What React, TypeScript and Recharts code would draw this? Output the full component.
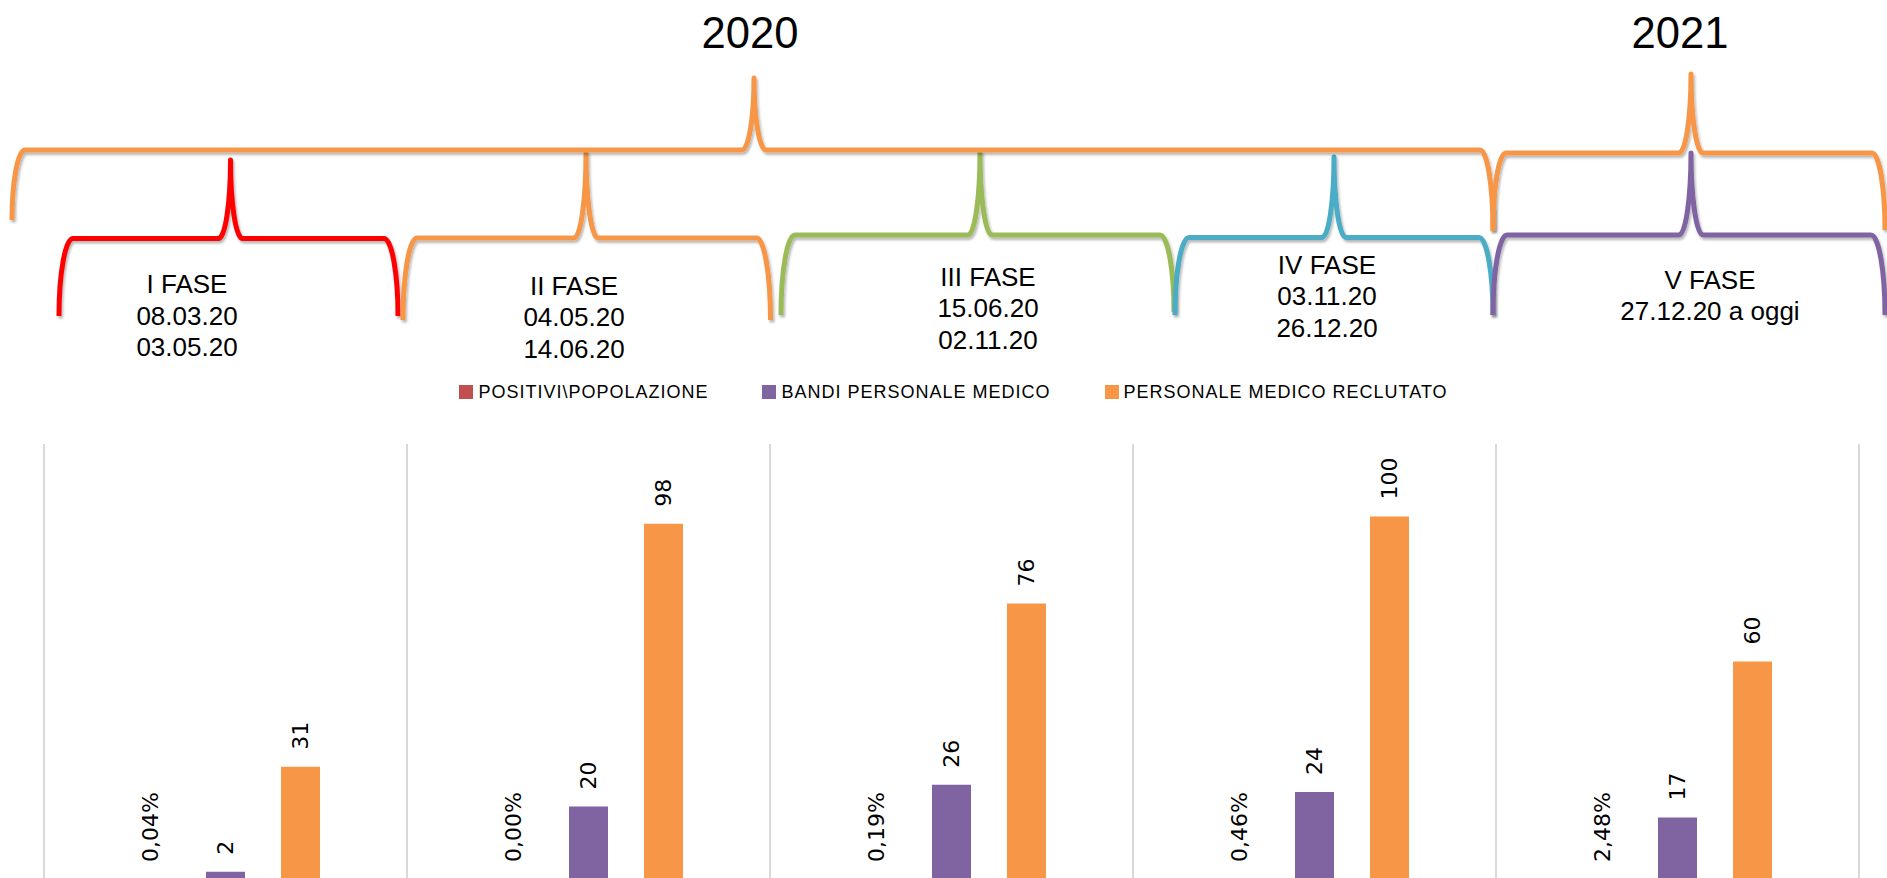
import React from 'react';
import { BarChart, Bar, XAxis, YAxis, CartesianGrid, Legend, LabelList } from 'recharts';

// ---- data ----
const phases = ['I FASE', 'II FASE', 'III FASE', 'IV FASE', 'V FASE'];
const phaseStart = ['08.03.20', '04.05.20', '15.06.20', '03.11.20', '27.12.20 a oggi'];
const phaseEnd = ['03.05.20', '14.06.20', '02.11.20', '26.12.20', ''];
const years = ['2020', '2021'];
const seriesNames = ['POSITIVI\\POPOLAZIONE', 'BANDI PERSONALE MEDICO', 'PERSONALE MEDICO RECLUTATO'];
const positiviPopolazione = [0.0004, 0.0, 0.0019, 0.0046, 0.0248];
const bandiPersonaleMedico = [2, 20, 26, 24, 17];
const personaleMedicoReclutato = [31, 98, 76, 100, 60];

const data = phases.map((p, i) => ({
  phase: p,
  positivi: positiviPopolazione[i],
  bandi: bandiPersonaleMedico[i],
  reclutato: personaleMedicoReclutato[i],
}));

// ---- layout / style ----
const W = 1887;
const H = 878;
const CHART_H = 900;
const MARGIN = { top: 444, right: 28, bottom: 21, left: 44 };
const COLORS = ['#C0504D', '#8064A2', '#F79646'];
const TEXT_FONT = '"Liberation Sans", Arial, sans-serif';
const LABEL_FONT = '"DejaVu Sans", Verdana, sans-serif';

const yearBraces = [
  { x1: 12, x2: 1493, xp: 754, yH: 150, yL: 220, yR: 230, yP: 78, color: '#F79646', rE: 13 },
  { x1: 1493, x2: 1885, xp: 1691, yH: 153, yL: 231, yR: 230, yP: 74, color: '#F79646', rE: 13 },
];
const yearPos = [
  { x: 750, y: 48 },
  { x: 1680, y: 48 },
];
const phaseBraces = [
  { x1: 59, x2: 398, xp: 230.5, yH: 238.5, yL: 316, yR: 316, yP: 160, color: '#FF0000', rE: 14 },
  { x1: 403, x2: 770.5, xp: 586, yH: 238, yL: 320, yR: 320, yP: 153, color: '#F79646', rE: 14 },
  { x1: 781, x2: 1174, xp: 980, yH: 235, yL: 315, yR: 312, yP: 153, color: '#9BBB59', rE: 14 },
  { x1: 1175, x2: 1493, xp: 1334, yH: 237.5, yL: 315, yR: 315, yP: 157, color: '#4BACC6', rE: 14 },
  { x1: 1493, x2: 1885, xp: 1691, yH: 235, yL: 315, yR: 315, yP: 153, color: '#8064A2', rE: 14 },
];
const phaseTextPos = [
  { x: 187, y: 293 },
  { x: 574, y: 294.5 },
  { x: 988, y: 285.5 },
  { x: 1327, y: 273.5 },
  { x: 1710, y: 288.5 },
];
const LINE_H = 31.5;

type Brace = { x1: number; x2: number; xp: number; yH: number; yL: number; yR: number; yP: number; color: string; rE: number };

function bracePath(b: Brace) {
  const rP = 12;
  return [
    `M ${b.x1} ${b.yL}`,
    `A ${b.rE} ${b.yL - b.yH} 0 0 1 ${b.x1 + b.rE} ${b.yH}`,
    `L ${b.xp - rP} ${b.yH}`,
    `A ${rP} ${b.yH - b.yP} 0 0 0 ${b.xp} ${b.yP}`,
    `A ${rP} ${b.yH - b.yP} 0 0 0 ${b.xp + rP} ${b.yH}`,
    `L ${b.x2 - b.rE} ${b.yH}`,
    `A ${b.rE} ${b.yR - b.yH} 0 0 1 ${b.x2} ${b.yR}`,
  ].join(' ');
}

const fmtPct = (v: number) => (v * 100).toFixed(2).replace('.', ',') + '%';
const fmtNum = (v: number) => String(v);

const makeLabel = (fmt: (v: number) => string) => (props: any) => {
  const { x, y, width, value } = props;
  const cx = Number(x) + Number(width) / 2;
  const ty = Number(y) - 17;
  return (
    <text
      x={cx}
      y={ty}
      transform={`rotate(-90 ${cx} ${ty})`}
      textAnchor="start"
      dominantBaseline="central"
      fontFamily={LABEL_FONT}
      fontSize={22}
      fill="#000"
    >
      {fmt(Number(value))}
    </text>
  );
};

const renderLegend = (props: any) => {
  const payload = [...(props.payload || [])].sort(
    (a: any, b: any) => seriesNames.indexOf(a.value) - seriesNames.indexOf(b.value)
  );
  return (
    <div style={{ display: 'flex', justifyContent: 'center', alignItems: 'center', height: 20 }}>
      {payload.map((item: any, i: number) => (
        <div key={i} style={{ display: 'flex', alignItems: 'center', marginRight: i < payload.length - 1 ? 54 : 0 }}>
          <span style={{ display: 'inline-block', width: 14, height: 14, background: item.color, marginRight: 5 }} />
          <span style={{ fontFamily: TEXT_FONT, fontSize: 18, letterSpacing: 1, color: '#000', lineHeight: '20px', whiteSpace: 'nowrap' }}>
            {item.value}
          </span>
        </div>
      ))}
    </div>
  );
};

const gridGen = (args: any) => {
  const off = args.offset;
  const n = phases.length;
  const xs: number[] = [];
  for (let i = 0; i <= n; i++) xs.push(off.left + (off.width * i) / n);
  return xs;
};

export default function App() {
  return (
    <div style={{ position: 'absolute', left: 0, top: 0, width: W, height: H, overflow: 'hidden', background: '#fff' }}>
      <BarChart width={W} height={CHART_H} data={data} margin={MARGIN} barSize={39} barGap={36}>
        <CartesianGrid horizontal={false} vertical stroke="#d9d9d9" strokeWidth={2} verticalCoordinatesGenerator={gridGen} />
        <XAxis dataKey="phase" hide />
        <YAxis hide domain={[0, 120]} />
        <Legend
          verticalAlign="middle"
          align="center"
          itemSorter={null as any}
          content={renderLegend}
          wrapperStyle={{ top: 382, left: 10, width: W, height: 20 }}
        />
        <Bar dataKey="positivi" name={seriesNames[0]} fill={COLORS[0]} minPointSize={0.01} isAnimationActive={false}>
          <LabelList dataKey="positivi" content={makeLabel(fmtPct)} />
        </Bar>
        <Bar dataKey="bandi" name={seriesNames[1]} fill={COLORS[1]} isAnimationActive={false}>
          <LabelList dataKey="bandi" content={makeLabel(fmtNum)} />
        </Bar>
        <Bar dataKey="reclutato" name={seriesNames[2]} fill={COLORS[2]} isAnimationActive={false}>
          <LabelList dataKey="reclutato" content={makeLabel(fmtNum)} />
        </Bar>
      </BarChart>
      <svg
        width={W}
        height={370}
        style={{ position: 'absolute', left: 0, top: 0, pointerEvents: 'none' }}
      >
        <defs>
          <filter id="braceShadow" filterUnits="userSpaceOnUse" x={0} y={0} width={W} height={370}>
            <feDropShadow dx={1.5} dy={2.5} stdDeviation={1.3} floodColor="#000" floodOpacity={0.28} />
          </filter>
        </defs>
        {years.map((y, i) => (
          <text
            key={y}
            x={yearPos[i].x}
            y={yearPos[i].y}
            textAnchor="middle"
            fontFamily={TEXT_FONT}
            fontSize={45}
            textLength={97}
            lengthAdjust="spacingAndGlyphs"
            fill="#000"
          >
            {y}
          </text>
        ))}
        {phaseBraces.map((b, i) => (
          <path
            key={'p' + i}
            d={bracePath(b)}
            fill="none"
            stroke={b.color}
            strokeWidth={5}
            strokeLinejoin="round"
            filter="url(#braceShadow)"
          />
        ))}
        {yearBraces.map((b, i) => (
          <path
            key={'y' + i}
            d={bracePath(b)}
            fill="none"
            stroke={b.color}
            strokeWidth={5}
            strokeLinejoin="round"
            filter="url(#braceShadow)"
          />
        ))}
        {phases.map((p, i) => {
          const lines = [p, phaseStart[i], phaseEnd[i]].filter((s) => s !== '');
          return (
            <text key={p} textAnchor="middle" fontFamily={TEXT_FONT} fontSize={26} fill="#000">
              {lines.map((s, j) => (
                <tspan key={j} x={phaseTextPos[i].x} y={phaseTextPos[i].y + j * LINE_H}>
                  {s}
                </tspan>
              ))}
            </text>
          );
        })}
      </svg>
    </div>
  );
}
